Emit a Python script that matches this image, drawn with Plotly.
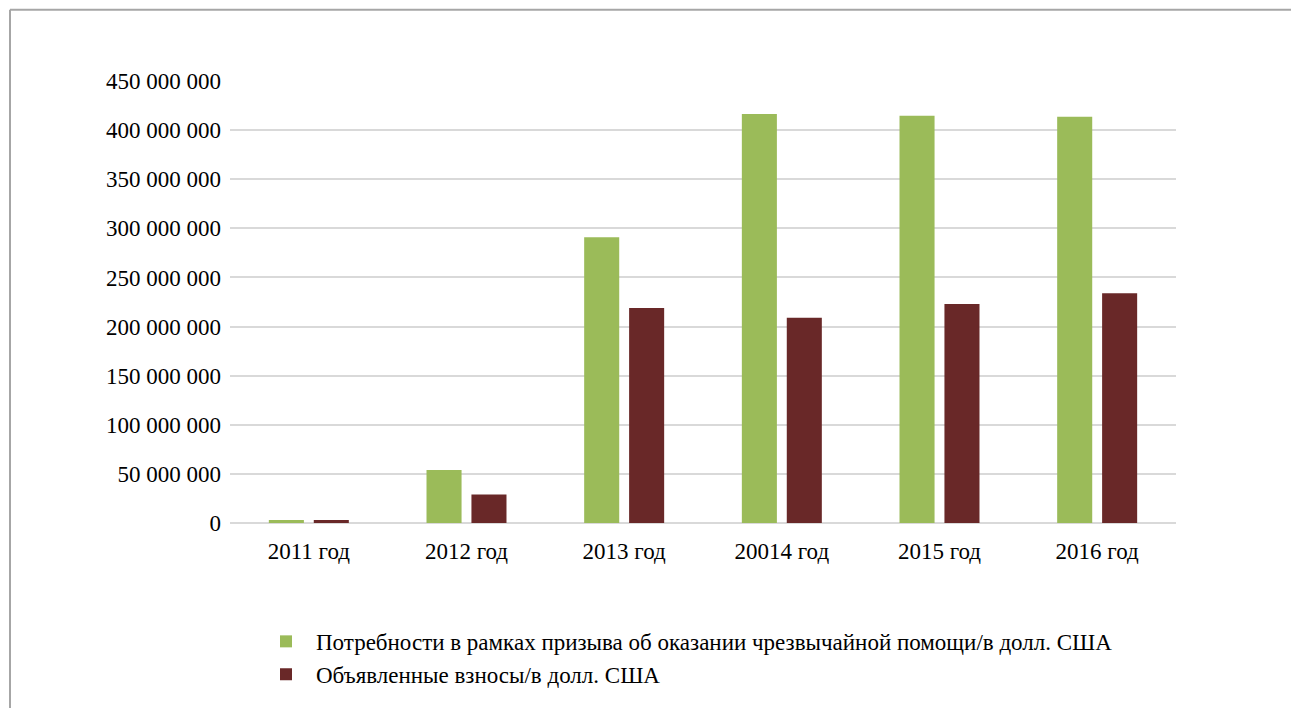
import plotly.graph_objects as go

categories = ["2011 год", "2012 год", "2013 год", "20014 год", "2015 год", "2016 год"]
needs = [3_000_000, 54_000_000, 291_000_000, 416_500_000, 414_500_000, 413_500_000]
pledged = [3_000_000, 29_000_000, 219_000_000, 209_000_000, 223_000_000, 234_000_000]
tick_vals = [0, 50e6, 100e6, 150e6, 200e6, 250e6, 300e6, 350e6, 400e6, 450e6]
tick_text = ["0", "50 000 000", "100 000 000", "150 000 000", "200 000 000",
             "250 000 000", "300 000 000", "350 000 000", "400 000 000", "450 000 000"]
series_names = ["Потребности в рамках призыва об оказании чрезвычайной помощи/в долл. США",
                "Объявленные взносы/в долл. США"]

OFF = 8  # browser default body margin
W, H = 1299 - OFF, 708 - OFF
ML, MR, MT, MB = 230 - OFF, 123, 81 - OFF, 180
FONT = "Liberation Serif, Times New Roman, serif"
FS = 23

fig = go.Figure()
fig.add_trace(go.Bar(x=categories, y=needs, name=series_names[0],
                     marker=dict(color="#9BBB59", line=dict(width=0))))
fig.add_trace(go.Bar(x=categories, y=pledged, name=series_names[1],
                     marker=dict(color="#692828", line=dict(width=0))))

pw = W - ML - MR
ph = H - MT - MB
def px_x(x):  # screen px -> paper
    return (x - OFF - ML) / pw
def px_y(y):
    return (H - MB - (y - OFF)) / ph

frame_color = "#a6a6a6"
fig.add_shape(type="line", xref="paper", yref="paper",
              x0=px_x(10), x1=px_x(1320), y0=px_y(9), y1=px_y(9),
              line=dict(color=frame_color, width=2), layer="above")
fig.add_shape(type="line", xref="paper", yref="paper",
              x0=px_x(10), x1=px_x(10), y0=px_y(9), y1=px_y(730),
              line=dict(color=frame_color, width=2), layer="above")

fig.update_layout(
    width=W, height=H,
    margin=dict(l=ML, r=MR, t=MT, b=MB, pad=0),
    paper_bgcolor="white", plot_bgcolor="white",
    barmode="group", bargap=0.43, bargroupgap=0.22,
    font=dict(family=FONT, size=FS, color="#000000"),
    showlegend=True,
    legend=dict(x=px_x(256), y=px_y(626), xanchor="left", yanchor="top",
                font=dict(family=FONT, size=FS, color="#000000"),
                bgcolor="rgba(0,0,0,0)", tracegroupgap=0, itemwidth=50),
    xaxis=dict(showgrid=False, showline=False, ticks="", tickfont=dict(size=FS),
               ticklabelstandoff=12),
    yaxis=dict(range=[0, 450e6], tickvals=tick_vals, ticktext=tick_text,
               showgrid=True, gridcolor="#d9d9d9", gridwidth=2,
               zeroline=True, zerolinecolor="#d9d9d9", zerolinewidth=2,
               showline=False, ticks="", tickfont=dict(size=FS),
               ticklabelstandoff=8),
)

fig.write_html("out.html")
